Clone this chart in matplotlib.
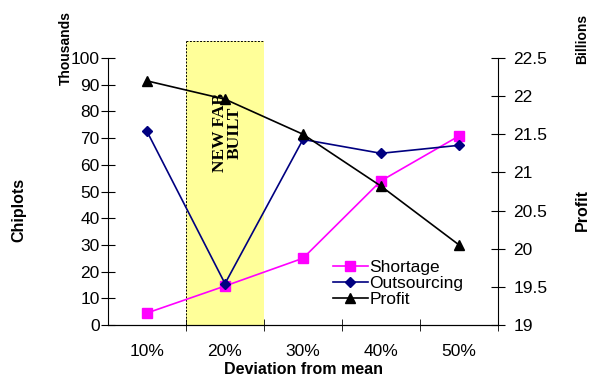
import matplotlib.pyplot as plt
from matplotlib.patches import Rectangle

# datos
categorias = ['10%', '20%', '30%', '40%', '50%']
shortage = [4.5, 14.6, 25, 54, 70.8]
outsourcing = [72.5, 15.5, 69.5, 64.3, 67.3]
profit = [22.2, 21.96, 21.5, 20.82, 20.05]

plt.rcParams['font.family'] = ['Liberation Sans', 'DejaVu Sans']

fig = plt.figure(figsize=(5.89, 3.86), dpi=100)
ax = fig.add_axes([108/589, 61/386, 390/589, 267/386])
ax2 = ax.twinx()

x = list(range(1, len(categorias) + 1))

# zona amarilla de la nueva fab
rect = Rectangle((1.5, 0), 1.0, 106.3, facecolor='#FFFF99', edgecolor='none',
                 clip_on=False, zorder=0)
ax.add_patch(rect)
ax.plot([1.5, 1.5], [0, 106.3], color='black', lw=0.7, ls=(0, (2, 1.5)), clip_on=False, zorder=1)
ax.plot([1.5, 2.5], [106.3, 106.3], color='black', lw=0.7, ls=(0, (2, 1.5)), clip_on=False, zorder=1)
ax.text(2.03, 72, 'NEW FAB\nBUILT', rotation=90, ha='center', va='center',
        family='Liberation Serif', fontweight='bold', fontsize=12.5, linespacing=0.9)

l1, = ax.plot(x, shortage, color='#FF00FF', marker='s', markersize=7, lw=1.2, label='Shortage', zorder=3)
l2, = ax.plot(x, outsourcing, color='#000080', marker='D', markersize=5.5, lw=1.2, label='Outsourcing', zorder=3)
l3, = ax2.plot(x, profit, color='black', marker='^', markersize=7.5, lw=1.2, label='Profit', zorder=3)

ax.set_xlim(0.5, 5.5)
ax.set_ylim(0, 100)
ax2.set_ylim(19, 22.5)
ax.set_yticks(range(0, 101, 10))
ax2.set_yticks([19, 19.5, 20, 20.5, 21, 21.5, 22, 22.5])
ax2.set_yticklabels(['19', '19.5', '20', '20.5', '21', '21.5', '22', '22.5'])

ax.set_xticks(x)
ax.set_xticklabels(categorias)
ax.set_xticks([1.5, 2.5, 3.5, 4.5, 5.5], minor=True)
ax.tick_params(axis='x', which='major', length=0, labelsize=12.5, pad=14)
ax.tick_params(axis='x', which='minor', length=8, direction='inout')
ax.tick_params(axis='y', length=10, direction='inout', labelsize=12.5, pad=1)
ax2.tick_params(axis='y', length=10, direction='inout', labelsize=12.5, pad=6)

for a in (ax, ax2):
    a.spines['top'].set_visible(False)
    a.patch.set_visible(False)
ax.spines['right'].set_visible(False)
ax2.spines['left'].set_visible(False)

ax.set_xlabel('Deviation from mean', fontweight='bold', fontsize=11.5, labelpad=2)
fig.text(19/589, 1 - 210/386, 'Chiplots', rotation=90, fontweight='bold', fontsize=11.5, ha='center', va='center')
fig.text(66/589, 1 - 48/386, 'Thousands', rotation=90, fontweight='bold', fontsize=10, ha='center', va='center')
fig.text(582/589, 1 - 39/386, 'Billions', rotation=90, fontweight='bold', fontsize=10, ha='center', va='center')
fig.text(582/589, 1 - 210/386, 'Profit', rotation=90, fontweight='bold', fontsize=11.5, ha='center', va='center')

ax2.legend(handles=[l1, l2, l3], loc='upper left', bbox_to_anchor=(333/589, 1 - 260/386),
           bbox_transform=fig.transFigure, frameon=False, fontsize=12.5, handlelength=2,
           handletextpad=0.1, labelspacing=0.05, borderaxespad=0, borderpad=0)

fig.savefig('out.png', dpi=100)
